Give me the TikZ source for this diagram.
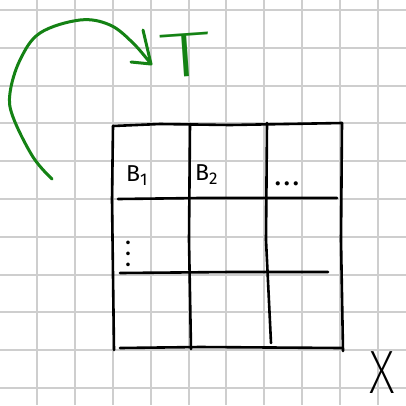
\documentclass[tikz,border=0pt]{standalone}
\usepackage{fontspec}
\setmainfont{Fira Sans}
\newfontfamily\thinfont{Fira Sans ExtraLight}
\definecolor{gridgray}{RGB}{206,206,206}
\definecolor{pengreen}{RGB}{20,130,20}
\begin{document}
\begin{tikzpicture}[x=1pt,y=-1pt,
  gridline/.style={gridgray,line width=2pt},
  ink/.style={black,line width=2.6pt,line cap=round,line join=round},
  greenink/.style={pengreen,line width=3pt,line cap=round,line join=round},
  lbl/.style={inner sep=0pt,font=\fontsize{23}{26}\selectfont},
  big/.style={inner sep=0pt,font=\thinfont\fontsize{60}{60}\selectfont}]
\useasboundingbox (0,0) rectangle (406,405);
\fill[white] (0,0) rectangle (406,405);
% grid
\foreach \k in {0,...,10} {
  \draw[gridline] ({37.2+37.85*\k},0) -- ({37.2+37.85*\k},405);
}
\foreach \k in {0,...,10} {
  \draw[gridline] (0,{10+37.8*\k}) -- (406,{10+37.8*\k});
}
% table
\draw[ink] (113,126) -- (160,124) -- (230,125) -- (342,123);
\draw[ink] (113,126) -- (112,200) -- (114,350);
\draw[ink] (120,348) -- (200,347) -- (342,348);
\draw[ink] (342,123) -- (341,240) -- (343,351);
\draw[ink] (190,124) -- (189,240) -- (191,349);
\draw[ink] (267,123) -- (266,240) -- (271,343);
\draw[ink] (118,199) -- (200,198) -- (337,198);
\draw[ink] (120,273) -- (230,272) -- (328,272);
% labels
\node[lbl,anchor=base west] (b1) at (126,181) {B\raisebox{-4pt}{\fontsize{17}{20}\selectfont 1}};
\node[lbl,anchor=base west] (b2) at (195,180) {B\raisebox{-4pt}{\fontsize{17}{20}\selectfont 2}};
\node[lbl,anchor=base west] (dots) at (275,185) {\bfseries .\hspace{3.5pt}.\hspace{3.5pt}.};
\node[inner sep=0pt,rotate=-90,font=\bfseries\fontsize{20}{22}\selectfont] (vdots) at (128,254) {.\hspace{6pt}.\hspace{6pt}.};
% green arrow
\draw[greenink] plot[smooth,tension=0.6] coordinates {(52,179) (33,157) (13,117) (10,93) (20,60) (40,33) (80,20) (110,25) (133,43) (151,64)};
\coordinate (tip) at (151,64);
\coordinate (h1) at (143,30);
\coordinate (h2) at (131,62);
\draw[greenink] (h1) -- (tip) -- (h2);
\node[big,text=pengreen,rotate=4] (T) at (185,55) {\scalebox{1.75}[1.05]{T}};
\node[inner sep=0pt,font=\thinfont\fontsize{36}{36}\selectfont] (X) at (382,373) {\scalebox{1.4}[1.7]{X}};
\end{tikzpicture}
\end{document}
